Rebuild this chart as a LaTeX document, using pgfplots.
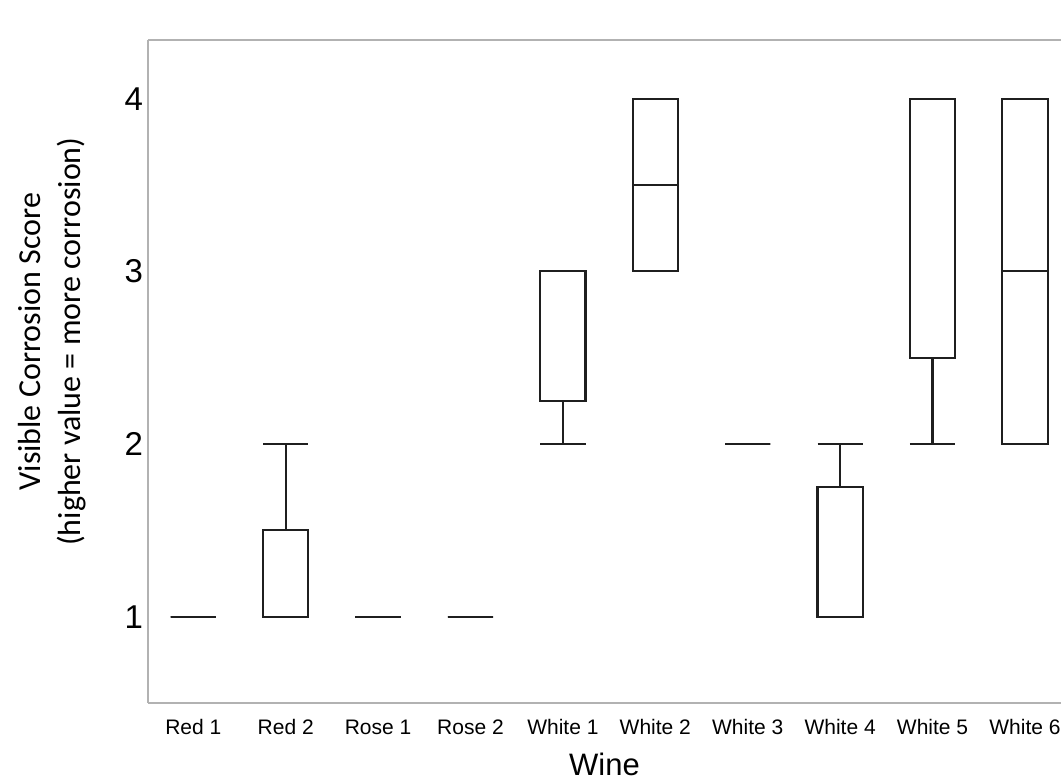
\documentclass[border=0pt]{standalone}
\usepackage{fontspec}
\setmainfont{Liberation Sans}
\newfontfamily\carlito{Carlito}
\usepackage{pgfplots}
\usepgfplotslibrary{statistics}
\pgfplotsset{compat=1.18}
\begin{document}
\begin{tikzpicture}
\useasboundingbox (-74pt,-39pt) rectangle (456.5pt,351.5pt);
\begin{axis}[
  at={(0,0)}, anchor=south west,
  scale only axis, width=456.5pt, height=331.5pt,
  xmin=-0.49, xmax=9.39, ymin=0.5, ymax=4.34,
  axis x line*=box, axis y line*=left,
  axis line style={black!30, line width=0.8pt},
  xtick={0,1,2,3,4,5,6,7,8,9},
  xticklabels={Red 1,Red 2,Rose 1,Rose 2,White 1,White 2,White 3,White 4,White 5,White 6},
  ytick={1,2,3,4},
  major tick length=0pt, tick style={draw=none},
  /pgf/number format/assume math mode=true,
  yticklabel style={font=\fontsize{16.5}{19}\selectfont, xshift=1pt},
  xticklabel style={font=\fontsize{10.5}{12}\selectfont, yshift=-4pt, text height=8pt, text depth=0pt},
  xlabel={Wine},
  xlabel style={font=\fontsize{15.5}{18}\selectfont, yshift=-6pt, inner sep=0pt, text height=11pt, text depth=0pt},
  every axis y label/.style={at={(rel axis cs:0,0.545)}, xshift=-48pt, rotate=90, anchor=center, align=center, font=\carlito\fontsize{16}{20}\selectfont},
  ylabel={Visible Corrosion Score\\(higher value = more corrosion)},
  boxplot/draw direction=y,
  boxplot/box extend=0.49,
  boxplot/whisker extend=0.49,
  clip=false,
]
\pgfplotsset{bx/.style={draw=black!88, line width=1.1pt, solid, fill=none, mark=none}}
\addplot[bx, boxplot prepared={lower whisker=1, lower quartile=1, median=1, upper quartile=1, upper whisker=1, draw position=0}] coordinates {};
\addplot[bx, boxplot prepared={lower whisker=1, lower quartile=1, median=1, upper quartile=1.5, upper whisker=2, draw position=1}] coordinates {};
\addplot[bx, boxplot prepared={lower whisker=1, lower quartile=1, median=1, upper quartile=1, upper whisker=1, draw position=2}] coordinates {};
\addplot[bx, boxplot prepared={lower whisker=1, lower quartile=1, median=1, upper quartile=1, upper whisker=1, draw position=3}] coordinates {};
\addplot[bx, boxplot prepared={lower whisker=2, lower quartile=2.25, median=3, upper quartile=3, upper whisker=3, draw position=4}] coordinates {};
\addplot[bx, boxplot prepared={lower whisker=3, lower quartile=3, median=3.5, upper quartile=4, upper whisker=4, draw position=5}] coordinates {};
\addplot[bx, boxplot prepared={lower whisker=2, lower quartile=2, median=2, upper quartile=2, upper whisker=2, draw position=6}] coordinates {};
\addplot[bx, boxplot prepared={lower whisker=1, lower quartile=1, median=1, upper quartile=1.75, upper whisker=2, draw position=7}] coordinates {};
\addplot[bx, boxplot prepared={lower whisker=2, lower quartile=2.5, median=4, upper quartile=4, upper whisker=4, draw position=8}] coordinates {};
\addplot[bx, boxplot prepared={lower whisker=2, lower quartile=2, median=3, upper quartile=4, upper whisker=4, draw position=9}] coordinates {};
\end{axis}
\end{tikzpicture}
\end{document}
